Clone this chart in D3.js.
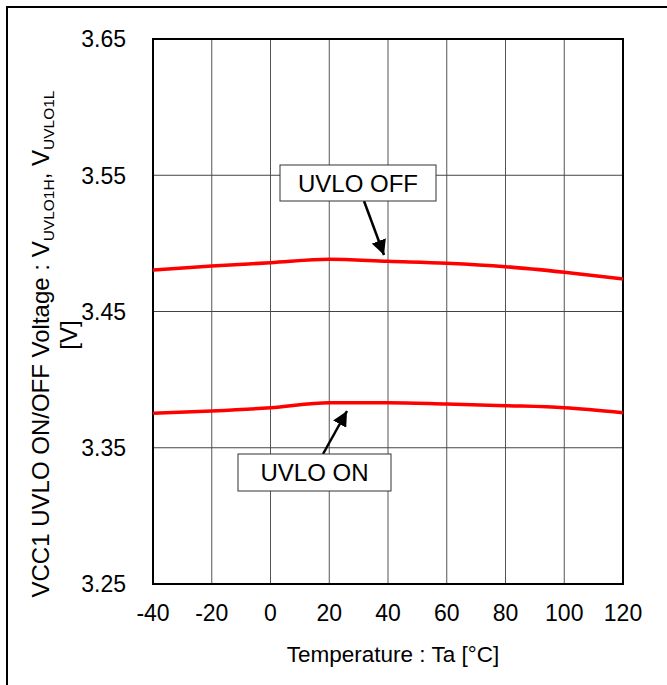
<!DOCTYPE html>
<html><head><meta charset="utf-8">
<script src="https://cdn.jsdelivr.net/npm/d3@7"></script>
<style>body{margin:0;background:#fff}svg{display:block}</style>
</head><body>
<script>
const temps = [-40, -20, 0, 20, 40, 60, 80, 100, 120];
const uvloOff = [3.4805, 3.4834, 3.4858, 3.4883, 3.4868, 3.4854, 3.4829, 3.4788, 3.4739];
const uvloOn  = [3.3753, 3.3770, 3.3794, 3.3831, 3.3831, 3.3821, 3.3809, 3.3794, 3.3757];
const xTicks = [-40, -20, 0, 20, 40, 60, 80, 100, 120];
const yTicks = [3.25, 3.35, 3.45, 3.55, 3.65];

const W = 667, H = 685;
const m = {left:153, right:623, top:39, bottom:584};
const font = "Arial, 'Liberation Sans', sans-serif";
const svg = d3.select("body").append("svg").attr("width", W).attr("height", H);

svg.append("rect").attr("x",7).attr("y",7).attr("width",W+20).attr("height",H+20)
  .attr("fill","none").attr("stroke","#000").attr("stroke-width",2);

const x = d3.scaleLinear().domain([-40,120]).range([m.left, m.right]);
const y = d3.scaleLinear().domain([3.25,3.65]).range([m.bottom, m.top]);

const g = svg.append("g");
g.selectAll(".vg").data(xTicks).join("line")
  .attr("x1", d=>x(d)).attr("x2", d=>x(d)).attr("y1", m.top).attr("y2", m.bottom)
  .attr("stroke","#555").attr("stroke-width",1);
g.selectAll(".hg").data(yTicks).join("line")
  .attr("x1", m.left).attr("x2", m.right).attr("y1", d=>y(d)).attr("y2", d=>y(d))
  .attr("stroke","#444").attr("stroke-width",1);
g.append("rect").attr("x",m.left).attr("y",m.top).attr("width",m.right-m.left).attr("height",m.bottom-m.top)
  .attr("fill","none").attr("stroke","#000").attr("stroke-width",2);

svg.selectAll(".xl").data(xTicks).join("text")
  .attr("x", d=>x(d)).attr("y", 621).attr("text-anchor","middle")
  .attr("font-family",font).attr("font-size",23).text(d=>d);
svg.selectAll(".yl").data(yTicks).join("text")
  .attr("x", 126).attr("y", d=>y(d)).attr("dy","0.36em").attr("text-anchor","end")
  .attr("font-family",font).attr("font-size",23).text(d=>d.toFixed(2));

svg.append("text").attr("x",393).attr("y",662).attr("text-anchor","middle")
  .attr("font-family",font).attr("font-size",22.5).text("Temperature : Ta [°C]");
const yt = svg.append("text").attr("transform","translate(49,344) rotate(-90)")
  .attr("text-anchor","middle").attr("font-family",font).attr("font-size",24);
yt.append("tspan").text("VCC1 UVLO ON/OFF Voltage : V");
yt.append("tspan").attr("font-size",15.5).attr("dy",5).text("UVLO1H");
yt.append("tspan").attr("dy",-5).text(", V");
yt.append("tspan").attr("font-size",15.5).attr("dy",5).text("UVLO1L");
svg.append("text").attr("transform","translate(77,335) rotate(-90)")
  .attr("text-anchor","middle").attr("font-family",font).attr("font-size",24).text("[V]");

const line = d3.line().x(d=>x(d[0])).y(d=>y(d[1])).curve(d3.curveMonotoneX);
[uvloOff, uvloOn].forEach(s=>{
  svg.append("path").datum(temps.map((t,i)=>[t,s[i]])).attr("d",line)
    .attr("fill","none").attr("stroke","#ff0000").attr("stroke-width",3.5);
});

const defs = svg.append("defs");
defs.append("marker").attr("id","ah").attr("viewBox","0 0 10 10").attr("refX",10).attr("refY",5)
  .attr("markerWidth",6).attr("markerHeight",6).attr("markerUnits","strokeWidth").attr("orient","auto")
  .append("path").attr("d","M0,0 L10,5 L0,10 z").attr("fill","#000");

function callout(bx,by,bw,bh,label,x1,y1,x2,y2){
  svg.append("line").attr("x1",x1).attr("y1",y1).attr("x2",x2).attr("y2",y2)
    .attr("stroke","#000").attr("stroke-width",2.5).attr("marker-end","url(#ah)");
  svg.append("rect").attr("x",bx).attr("y",by).attr("width",bw).attr("height",bh)
    .attr("fill","#fff").attr("stroke","#333").attr("stroke-width",1);
  svg.append("text").attr("x",bx+bw/2).attr("y",by+bh/2).attr("dy","0.36em").attr("text-anchor","middle")
    .attr("font-family",font).attr("font-size",24).text(label);
}
callout(280,165,156,36,"UVLO OFF",364,201,384,255);
callout(238,454,153,37,"UVLO ON",323,454,347,411);
</script>
</body></html>
